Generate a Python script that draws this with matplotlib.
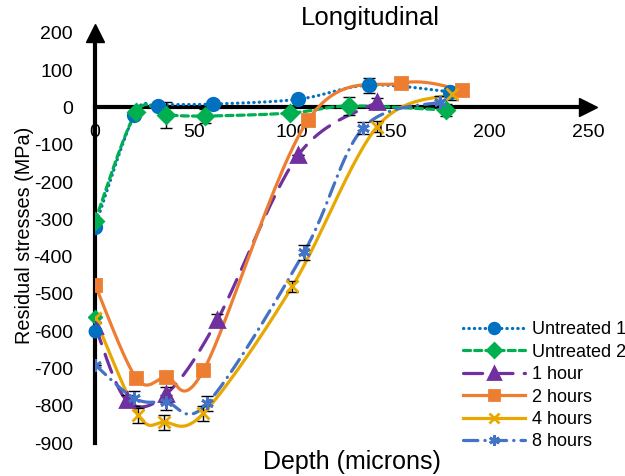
import numpy as np
import matplotlib.pyplot as plt

plt.rcParams['font.family'] = ['Liberation Sans', 'DejaVu Sans']
plt.rcParams['axes.unicode_minus'] = False

# depth (microns) / residual stress (MPa) / error, one set per series
u1_x = [0, 20, 32, 60, 103, 139, 180]
u1_y = [-320, -20, 5, 9, 22, 60, 42]
u1_e = [0, 0, 0, 0, 0, 20, 0]

u2_x = [0, 21, 36, 56, 99, 129, 178]
u2_y = [-305, -12, -20, -23, -15, 4, -7]
u2_e = [0, 0, 35, 20, 0, 25, 15]

h1_x = [0, 16, 36, 62, 103, 143]
h1_y = [-585, -785, -769, -570, -128, 15]
h1_e = [10, 15, 20, 15, 0, 10]

h2_x = [0, 21, 36, 55, 108, 155, 186]
h2_y = [-475, -726, -723, -705, -34, 65, 47]
h2_e = [0, 0, 0, 0, 0, 0, 0]

h4_x = [0, 22, 35, 55, 100, 143, 181]
h4_y = [-565, -825, -844, -820, -480, -52, 36]
h4_e = [10, 20, 20, 20, 15, 15, 15]

h8_x = [0, 20, 36, 57, 106, 136, 175]
h8_y = [-690, -780, -790, -793, -388, -55, 15]
h8_e = [0, 20, 20, 20, 20, 15, 15]

# stray markers sitting on the y axis
extra_u1 = (0, -600)
extra_u2 = (0, -562)

labels = ['Untreated 1', 'Untreated 2', '1 hour', '2 hours', '4 hours', '8 hours']


def smooth(x, y, n=30):
    # catmull-rom style smoothing like excel's "smoothed line"
    x = np.asarray(x, float)
    y = np.asarray(y, float)
    px = np.concatenate([[x[0]], x, [x[-1]]])
    py = np.concatenate([[y[0]], y, [y[-1]]])
    xs, ys = [], []
    t = np.linspace(0, 1, n)
    for i in range(1, len(px) - 2):
        p0x, p1x, p2x, p3x = px[i - 1], px[i], px[i + 1], px[i + 2]
        p0y, p1y, p2y, p3y = py[i - 1], py[i], py[i + 1], py[i + 2]
        c1x = p1x + (p2x - p0x) / 6
        c1y = p1y + (p2y - p0y) / 6
        c2x = p2x - (p3x - p1x) / 6
        c2y = p2y - (p3y - p1y) / 6
        bx = (1 - t) ** 3 * p1x + 3 * (1 - t) ** 2 * t * c1x + 3 * (1 - t) * t ** 2 * c2x + t ** 3 * p2x
        by = (1 - t) ** 3 * p1y + 3 * (1 - t) ** 2 * t * c1y + 3 * (1 - t) * t ** 2 * c2y + t ** 3 * p2y
        xs.extend(bx)
        ys.extend(by)
    return np.array(xs), np.array(ys)


fig = plt.figure(figsize=(6.25, 4.76), dpi=100)
ax = fig.add_axes([0.152, 0.069, 0.789, 0.862])

series = [
    (u1_x, u1_y, u1_e, '#0070C0', (0, (0.1, 1.6)), 'o', 9),
    (u2_x, u2_y, u2_e, '#00B050', (0, (2.2, 1.3)), 'D', 8),
    (h1_x, h1_y, h1_e, '#7030A0', (0, (6, 3.5)), '^', 10),
    (h2_x, h2_y, h2_e, '#ED7D31', '-', 's', 9),
    (h4_x, h4_y, h4_e, '#E8A800', '-', 'x', 8),
    (h8_x, h8_y, h8_e, '#4472C4', (0, (4.5, 2.2, 0.1, 2.2)), (6, 2, 0), 9),
]

handles = []
for (x, y, e, c, ls, m, ms), lab in zip(series, labels):
    sx, sy = smooth(x, y)
    ax.plot(sx, sy, color=c, ls=ls, lw=2.3, dash_capstyle='round', zorder=3)
    ax.errorbar(x, y, yerr=e, fmt='none', ecolor='black', elinewidth=1, capsize=4, zorder=4)
    ax.plot(x, y, ls='none', marker=m, ms=ms, color=c, mec=c, mew=2, zorder=5)
    h, = ax.plot([], [], color=c, ls=ls, lw=2.3, marker=m, ms=ms * 0.85, mew=2, dash_capstyle='round')
    handles.append(h)

ax.plot(*extra_u1, marker='o', ms=9, color='#0070C0', zorder=5, clip_on=False)
ax.plot(*extra_u2, marker='D', ms=7, color='#00B050', zorder=4, clip_on=False)

ax.set_xlim(0, 250)
ax.set_ylim(-900, 200)
ax.set_xticks([0, 50, 100, 150, 200, 250])
ax.set_yticks(np.arange(-900, 201, 100))
ax.spines['top'].set_visible(False)
ax.spines['right'].set_visible(False)
ax.spines['bottom'].set_position(('data', 0))
ax.spines['left'].set_linewidth(3)
ax.spines['bottom'].set_linewidth(3)
ax.spines['left'].set_zorder(2)
ax.spines['bottom'].set_zorder(2)
ax.tick_params(length=0, labelsize=14)
ax.tick_params(axis='x', pad=12)
ax.tick_params(axis='y', pad=16)

# arrow heads on the axes
ax.plot(0, 200, marker='^', ms=13, color='black', clip_on=False, zorder=2)
ax.plot(250, 0, marker='>', ms=13, color='black', clip_on=False, zorder=2)

fig.text(0.592, 0.962, 'Longitudinal', ha='center', va='center', fontsize=18.5)
fig.text(0.563, 0.029, 'Depth (microns)', ha='center', va='center', fontsize=18)
fig.text(0.04, 0.506, 'Residual stresses (MPa)', ha='center', va='center', rotation=90, fontsize=14.3)

fig.legend(handles, labels, loc='upper left', bbox_to_anchor=(0.73, 0.34), frameon=False,
           fontsize=13, handlelength=3.4, handletextpad=0.4, labelspacing=0.3,
           borderaxespad=0)

fig.savefig('out.png', dpi=100)
